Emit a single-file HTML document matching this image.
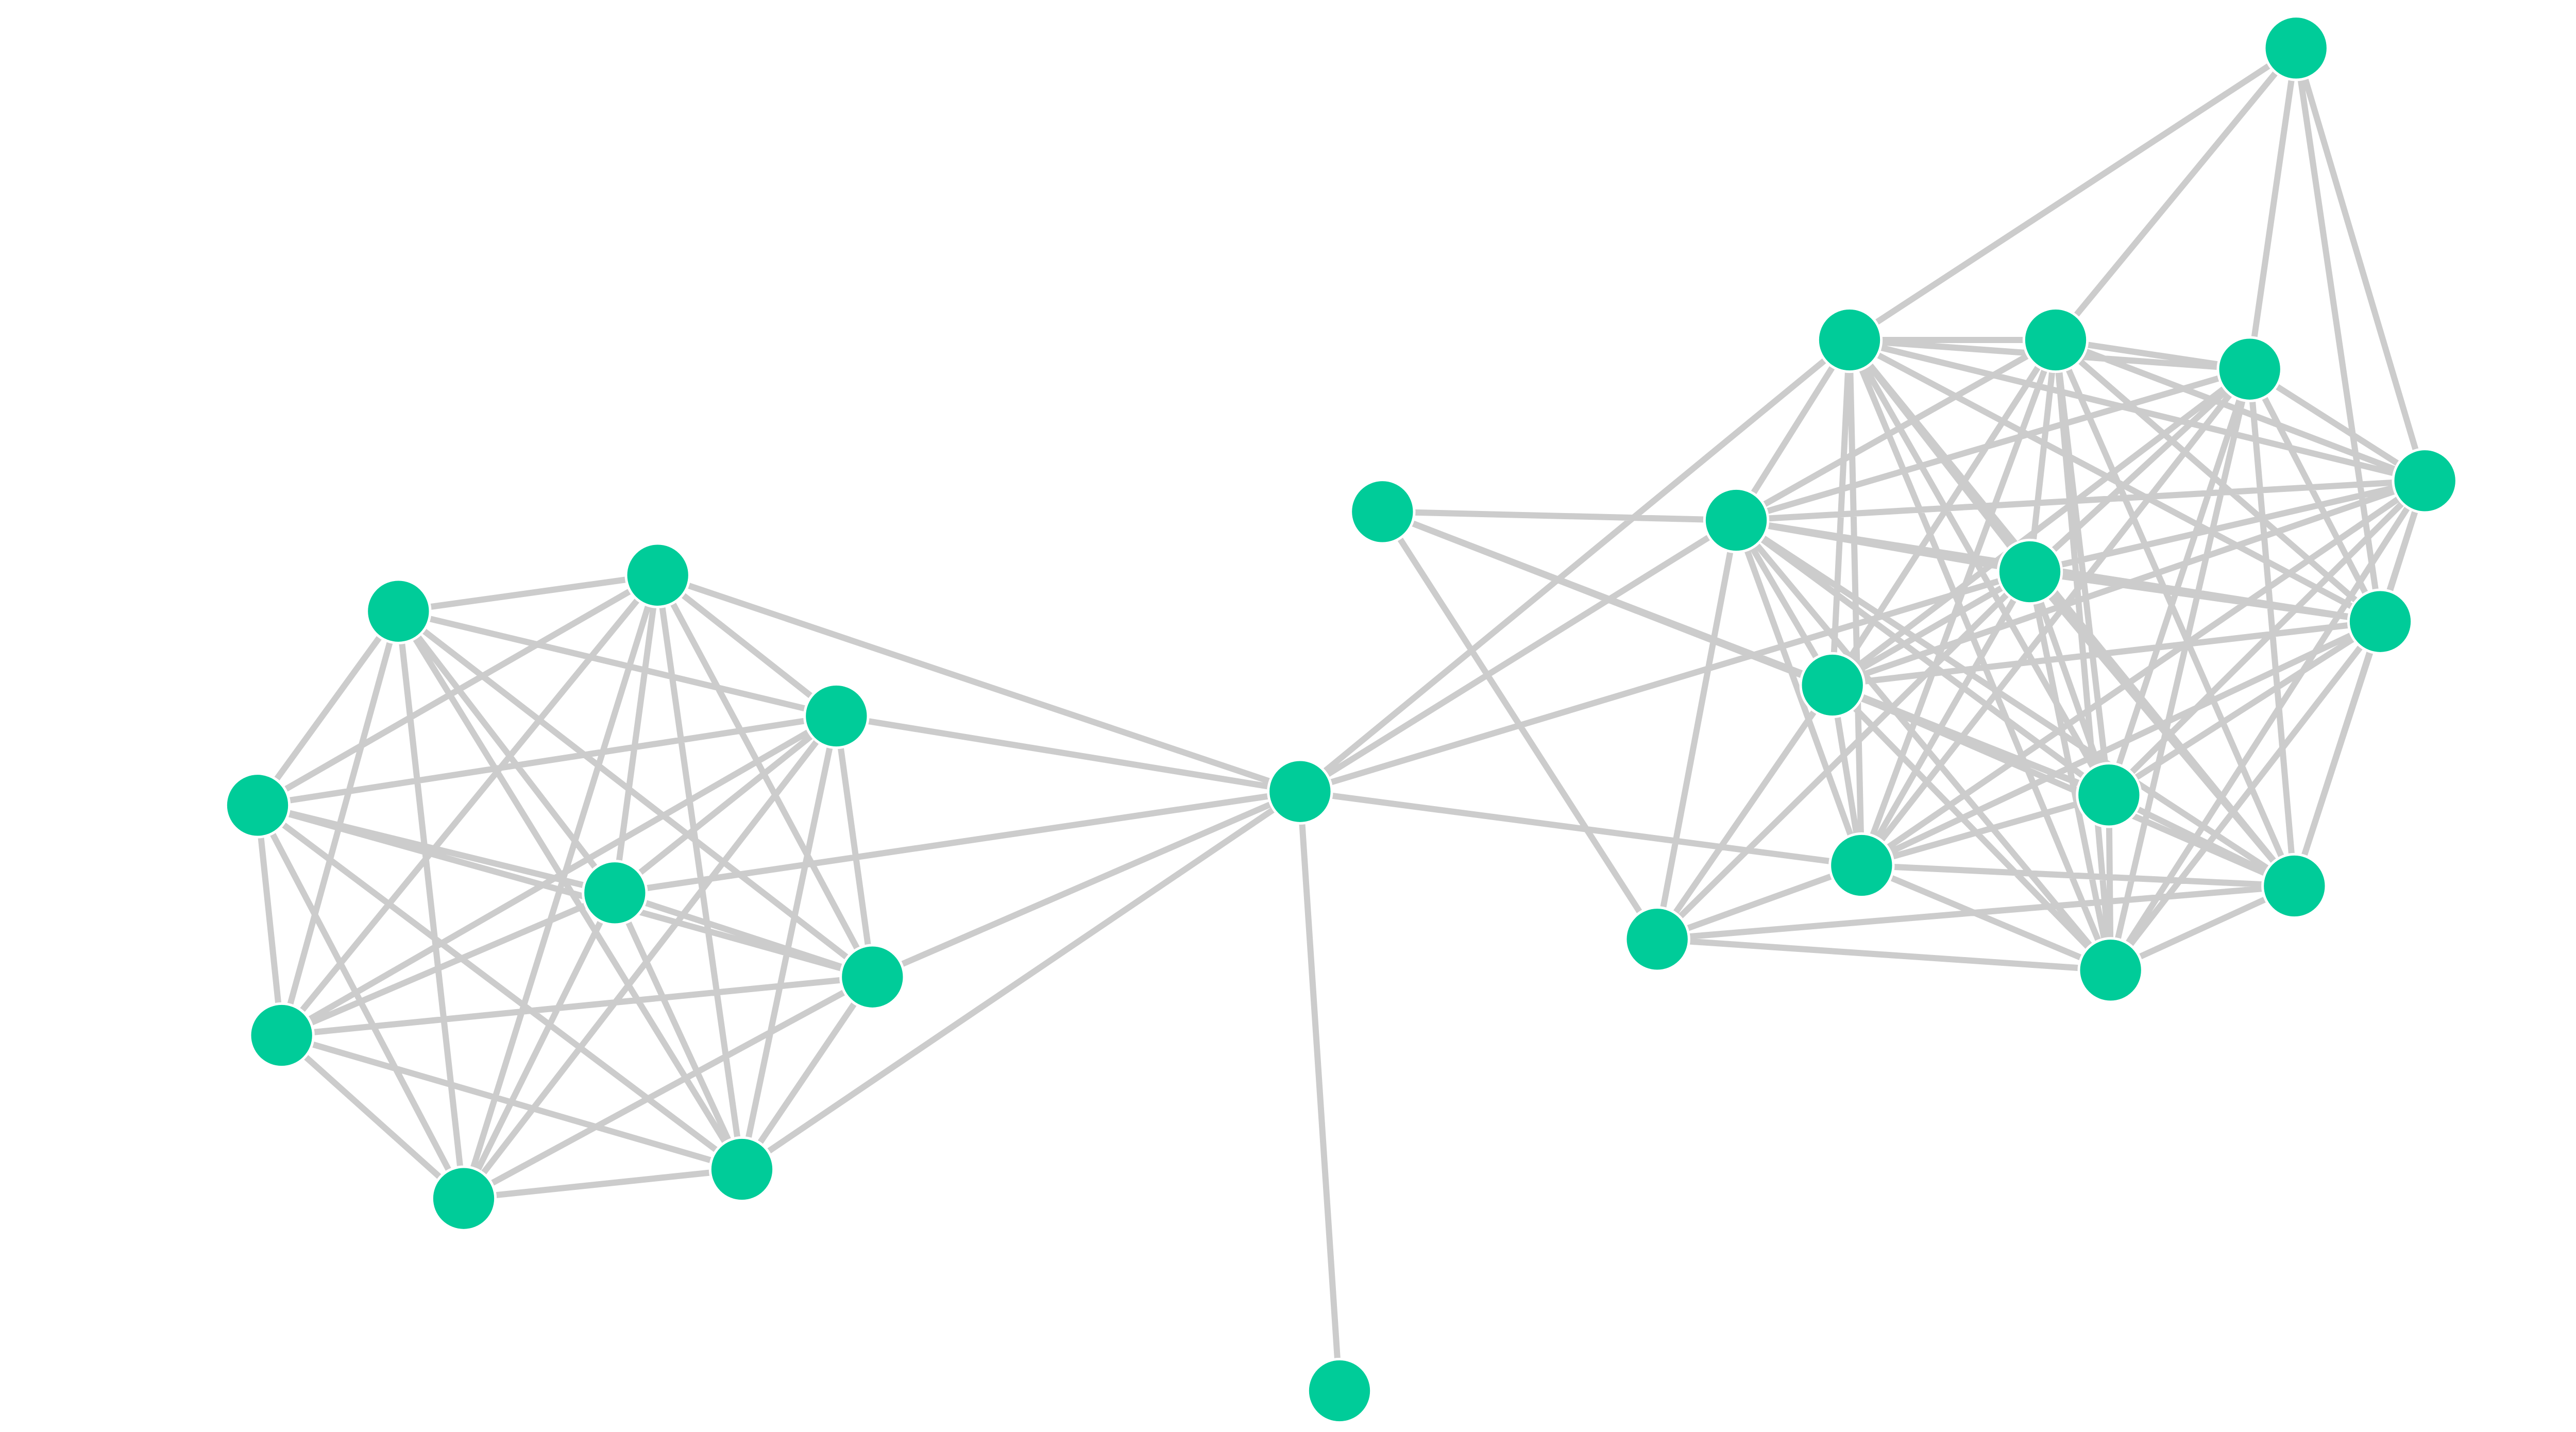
<!DOCTYPE html>
<html><head><meta charset="utf-8"><style>html,body{margin:0;padding:0;background:#fff;width:5200px;height:2780px;overflow:hidden}svg{display:block}</style></head>
<body>
<svg width="5200" height="2780" viewBox="0 0 1560 834" preserveAspectRatio="none" xmlns="http://www.w3.org/2000/svg">
<path stroke="#cccccc" stroke-width="3.6" fill="none" d="
M232 356L383 335M232 356L487 417M232 356L150 469M232 356L358 520M232 356L508 569M232 356L164 603M232 356L270 698M232 356L432 681
M383 335L487 417M383 335L150 469M383 335L358 520M383 335L508 569M383 335L164 603M383 335L270 698M383 335L432 681
M487 417L150 469M487 417L358 520M487 417L508 569M487 417L164 603M487 417L270 698M487 417L432 681
M150 469L358 520M150 469L508 569M150 469L164 603M150 469L270 698M150 469L432 681
M358 520L508 569M358 520L164 603M358 520L270 698M358 520L432 681
M508 569L164 603M508 569L270 698M508 569L432 681
M164 603L270 698M164 603L432 681M270 698L432 681
M757 461L383 335M757 461L487 417M757 461L358 520M757 461L508 569M757 461L432 681M757 461L780 810M757 461L1077 198M757 461L1011 303M757 461L1182 333M757 461L1084 504
M805 298L1011 303M805 298L1067 399M805 298L1228 463M805 298L965 547
M1337 28L1077 198M1337 28L1197 198M1337 28L1310 215M1337 28L1412 280M1337 28L1386 362
M965 547L1011 303M965 547L1067 399M965 547L1084 504M965 547L1229 565M965 547L1336 516M965 547L1182 333
M1077 198L1197 198M1077 198L1310 215M1077 198L1412 280M1077 198L1011 303M1077 198L1182 333M1077 198L1386 362M1077 198L1067 399M1077 198L1228 463M1077 198L1084 504M1077 198L1336 516M1077 198L1229 565
M1197 198L1310 215M1197 198L1412 280M1197 198L1011 303M1197 198L1182 333M1197 198L1386 362M1197 198L1067 399M1197 198L1228 463M1197 198L1084 504M1197 198L1336 516M1197 198L1229 565
M1310 215L1412 280M1310 215L1011 303M1310 215L1182 333M1310 215L1386 362M1310 215L1067 399M1310 215L1228 463M1310 215L1084 504M1310 215L1336 516M1310 215L1229 565
M1412 280L1011 303M1412 280L1182 333M1412 280L1386 362M1412 280L1067 399M1412 280L1228 463M1412 280L1084 504M1412 280L1336 516M1412 280L1229 565
M1011 303L1182 333M1011 303L1386 362M1011 303L1067 399M1011 303L1228 463M1011 303L1084 504M1011 303L1336 516M1011 303L1229 565
M1182 333L1386 362M1182 333L1067 399M1182 333L1228 463M1182 333L1084 504M1182 333L1336 516M1182 333L1229 565
M1386 362L1067 399M1386 362L1228 463M1386 362L1084 504M1386 362L1336 516M1386 362L1229 565
M1067 399L1228 463M1067 399L1084 504M1067 399L1336 516M1067 399L1229 565
M1228 463L1084 504M1228 463L1336 516M1228 463L1229 565
M1084 504L1336 516M1084 504L1229 565M1336 516L1229 565"/>
<g fill="#00cc99" stroke="#fff" stroke-width="1.5">
<circle cx="232" cy="356" r="18.5"/><circle cx="383" cy="335" r="18.5"/><circle cx="487" cy="417" r="18.5"/>
<circle cx="150" cy="469" r="18.5"/><circle cx="358" cy="520" r="18.5"/><circle cx="508" cy="569" r="18.5"/>
<circle cx="164" cy="603" r="18.5"/><circle cx="270" cy="698" r="18.5"/><circle cx="432" cy="681" r="18.5"/>
<circle cx="757" cy="461" r="18.5"/><circle cx="780" cy="810" r="18.5"/><circle cx="805" cy="298" r="18.5"/>
<circle cx="1077" cy="198" r="18.5"/><circle cx="1197" cy="198" r="18.5"/><circle cx="1310" cy="215" r="18.5"/>
<circle cx="1337" cy="28" r="18.5"/><circle cx="1412" cy="280" r="18.5"/><circle cx="1011" cy="303" r="18.5"/>
<circle cx="1182" cy="333" r="18.5"/><circle cx="1386" cy="362" r="18.5"/><circle cx="1067" cy="399" r="18.5"/>
<circle cx="1228" cy="463" r="18.5"/><circle cx="1084" cy="504" r="18.5"/><circle cx="1336" cy="516" r="18.5"/>
<circle cx="965" cy="547" r="18.5"/><circle cx="1229" cy="565" r="18.5"/>
</g>
</svg>
</body></html>
